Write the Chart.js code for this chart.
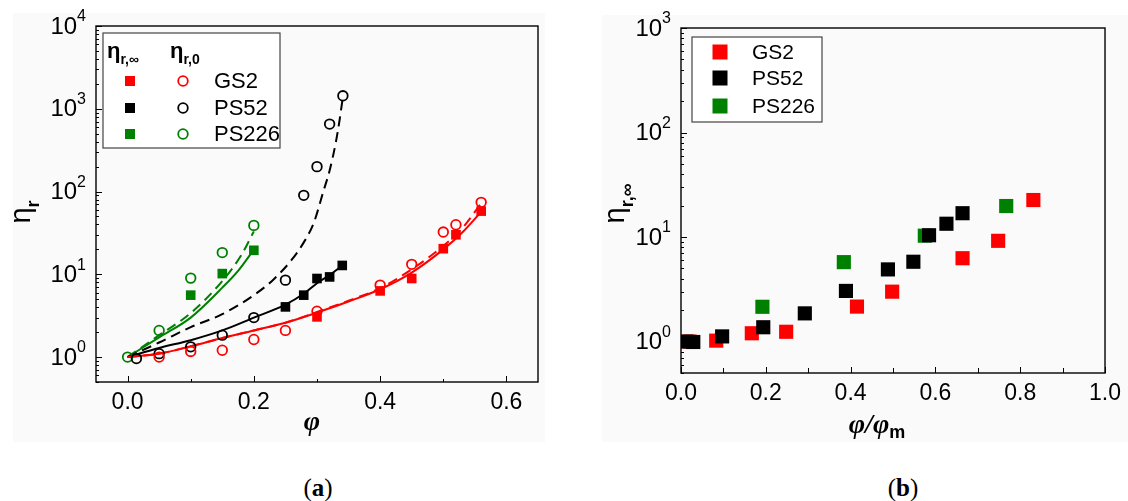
<!DOCTYPE html>
<html>
<head>
<meta charset="utf-8">
<script src="https://cdn.jsdelivr.net/npm/chart.js@4.4.1/dist/chart.umd.min.js"></script>
<style>
  body{margin:0;width:1128px;height:501px;background:#fff;position:relative;overflow:hidden}
  .bg{position:absolute;background:#fafafa}
  #bgA{left:13px;top:13px;width:532px;height:429px}
  #bgB{left:602px;top:15px;width:526px;height:427px}
  canvas{position:absolute;top:0}
  #chartA{left:0}
  #chartB{left:570px}
  .cap{position:absolute;top:474px;width:80px;margin-left:-40px;text-align:center;
       font:25px "Liberation Serif","DejaVu Serif",serif;color:#000}
</style>
</head>
<body>
<div class="bg" id="bgA"></div>
<div class="bg" id="bgB"></div>
<canvas id="chartA" width="560" height="445"></canvas>
<canvas id="chartB" width="558" height="445"></canvas>
<div class="cap" style="left:318px">(<b>a</b>)</div>
<div class="cap" style="left:903px">(<b>b</b>)</div>

<script>
/* ---------- panel (a): eta_r vs phi ---------- */
const phiGS2Inf   = [0.30, 0.40, 0.45, 0.50, 0.52, 0.56];
const etaGS2Inf   = [3.06, 6.3, 8.9, 20.4, 30, 58];
const phiGS2Zero  = [0.05, 0.10, 0.15, 0.20, 0.25, 0.30, 0.40, 0.45, 0.50, 0.52, 0.56];
const etaGS2Zero  = [1.0, 1.17, 1.21, 1.63, 2.1, 3.58, 7.4, 13.2, 32.4, 39.7, 74];

const phiPS52Inf  = [0.25, 0.279, 0.30, 0.32, 0.34];
const etaPS52Inf  = [4.04, 5.6, 8.9, 9.3, 12.8];
const phiPS52Zero = [0.014, 0.05, 0.10, 0.15, 0.20, 0.25, 0.279, 0.30, 0.32, 0.341];
const etaPS52Zero = [0.96, 1.1, 1.33, 1.84, 3.0, 8.5, 90, 200, 653, 1435];

const phiPS226Inf  = [0.10, 0.15, 0.20];
const etaPS226Inf  = [5.6, 10.2, 19.5];
const phiPS226Zero = [0, 0.05, 0.10, 0.15, 0.20];
const etaPS226Zero = [1.0, 2.1, 9.0, 18.3, 39];

// fitted curves (solid = eta_r,inf, dashed = eta_r,0)
const fitGS2InfX   = [0, 0.05, 0.10, 0.15, 0.20, 0.25, 0.30, 0.35, 0.40, 0.45, 0.50, 0.53, 0.56];
const fitGS2InfY   = [1, 1.1, 1.35, 1.7, 2.1, 2.6, 3.45, 4.7, 6.6, 10.5, 20, 32, 57];
const fitGS2ZeroX  = [0, 0.05, 0.10, 0.15, 0.20, 0.25, 0.30, 0.35, 0.40, 0.45, 0.50, 0.53, 0.56];
const fitGS2ZeroY  = [1, 1.1, 1.35, 1.7, 2.1, 2.6, 3.5, 4.8, 6.8, 11.5, 22, 36, 72];
const fitPS52InfX  = [0, 0.05, 0.10, 0.15, 0.20, 0.25, 0.28, 0.30, 0.32, 0.34];
const fitPS52InfY  = [1, 1.29, 1.6, 2.1, 3.0, 4.3, 5.9, 7.8, 9.8, 12.8];
const fitPS52ZeroX = [0, 0.05, 0.10, 0.15, 0.20, 0.23, 0.26, 0.28, 0.295, 0.31, 0.32, 0.33, 0.336, 0.341];
const fitPS52ZeroY = [1, 1.5, 2.3, 3.3, 5.6, 8.5, 15, 25, 42, 100, 180, 400, 750, 1400];
const fitPS226InfX  = [0, 0.05, 0.10, 0.15, 0.175, 0.20];
const fitPS226InfY  = [1, 1.73, 3.0, 6.9, 11, 19.9];
const fitPS226ZeroX = [0, 0.05, 0.10, 0.15, 0.18, 0.20];
const fitPS226ZeroY = [1, 1.84, 3.4, 8.3, 17, 33];

const xTicksA = [0, 0.2, 0.4, 0.6];
const xMinorA = [0.1, 0.3, 0.5];
const yTicksA = [1, 10, 100, 1000, 10000];

/* ---------- panel (b): eta_r,inf vs phi/phi_m ---------- */
const ratioGS2  = [0.02, 0.083, 0.167, 0.248, 0.415, 0.498, 0.664, 0.748, 0.831];
const etaGS2    = [1.0, 1.02, 1.2, 1.24, 2.16, 3.0, 6.27, 9.2, 22.6];
const ratioPS52 = [0.013, 0.029, 0.097, 0.194, 0.292, 0.389, 0.488, 0.548, 0.585, 0.626, 0.664];
const etaPS52   = [1.0, 0.99, 1.12, 1.37, 1.86, 3.05, 4.9, 5.8, 10.4, 13.4, 16.9];
const ratioPS226 = [0.192, 0.384, 0.575, 0.767];
const etaPS226   = [2.15, 5.75, 10.3, 19.8];

const xTicksB = [0, 0.2, 0.4, 0.6, 0.8, 1.0];
const xMinorB = [0.1, 0.3, 0.5, 0.7, 0.9];
const yTicksB = [1, 10, 100, 1000];

const series = ['GS2', 'PS52', 'PS226'];
const RED = '#ff0000', BLACK = '#000000', GREEN = '#008000';
const colors = [RED, BLACK, GREEN];

const SANS = '"Liberation Sans", Arial, sans-serif';
const SERIF = '"Liberation Serif", "DejaVu Serif", serif';

Chart.defaults.font.family = SANS;
Chart.defaults.color = '#000';
Chart.defaults.animation = false;

const pts = (xs, ys) => xs.map((x, i) => ({x, y: ys[i]}));

const squares = (label, xs, ys, color, r) => ({
  label, data: pts(xs, ys), pointStyle: 'rect', pointRadius: r,
  backgroundColor: color, borderColor: color, borderWidth: 0
});
const circles = (label, xs, ys, color) => ({
  label, data: pts(xs, ys), pointStyle: 'circle', pointRadius: 4.8,
  backgroundColor: 'rgba(0,0,0,0)', borderColor: color, borderWidth: 1.8
});
const curve = (label, xs, ys, color, dashed) => ({
  label, data: pts(xs, ys), showLine: true, pointRadius: 0, borderColor: color,
  borderWidth: 2, borderDash: dashed ? [10, 6] : [], cubicInterpolationMode: 'monotone'
});

/* ---------- drawing helpers ---------- */
// main text followed by a bold subscript, returns total width
function textWithSub(ctx, x, y, main, sub, size, subSize, measureOnly, boldMain){
  const mainFont = `${boldMain ? 'bold ' : ''}${size}px ${SANS}`;
  ctx.font = mainFont;
  const w1 = ctx.measureText(main).width;
  ctx.font = `bold ${subSize}px ${SANS}`;
  const w2 = ctx.measureText(sub).width;
  if (measureOnly) return w1 + w2;
  ctx.textBaseline = 'alphabetic'; ctx.textAlign = 'left';
  ctx.font = mainFont;
  ctx.fillText(main, x, y);
  ctx.font = `bold ${subSize}px ${SANS}`;
  ctx.fillText(sub, x + w1, y + size * 0.28);
  return w1 + w2;
}

function drawYTitle(ctx, cx, cy, main, sub, size, subSize){
  const w = textWithSub(ctx, 0, 0, main, sub, size, subSize, true);
  ctx.save();
  ctx.translate(cx, cy);
  ctx.rotate(-Math.PI / 2);
  textWithSub(ctx, -w / 2, size * 0.22, main, sub, size, subSize);
  ctx.restore();
}

function drawSquare(ctx, x, y, side, color){
  ctx.fillStyle = color;
  ctx.fillRect(x - side / 2, y - side / 2, side, side);
}
function drawCircle(ctx, x, y, r, color){
  ctx.strokeStyle = color; ctx.lineWidth = 1.8;
  ctx.beginPath(); ctx.arc(x, y, r, 0, Math.PI * 2); ctx.stroke();
}

// frame, inward ticks, power-of-ten labels, axis titles and legend
const panelDecor = {
  id: 'panelDecor',
  afterDraw(chart, args, o){
    const {ctx, chartArea: a, scales: {x, y}} = chart;
    ctx.save();
    ctx.strokeStyle = '#000';
    ctx.lineWidth = 1;
    const tickX = (v, len) => {
      const px = Math.round(x.getPixelForValue(v)) + 0.5;
      ctx.beginPath(); ctx.moveTo(px, a.bottom); ctx.lineTo(px, a.bottom - len); ctx.stroke();
    };
    const tickY = (v, len) => {
      const py = Math.round(y.getPixelForValue(v)) + 0.5;
      ctx.beginPath(); ctx.moveTo(a.left, py); ctx.lineTo(a.left + len, py); ctx.stroke();
    };
    o.xMajor.forEach(v => tickX(v, 6));
    o.xMinor.forEach(v => tickX(v, o.minorLen));
    for (let d = Math.floor(Math.log10(y.min)); d <= Math.ceil(Math.log10(y.max)); d++){
      for (let k = 1; k <= 9; k++){
        const v = k * Math.pow(10, d);
        if (v < y.min || v > y.max) continue;
        tickY(v, k === 1 ? 6 : 3);
      }
    }
    ctx.lineWidth = 1.4;
    ctx.strokeRect(a.left, a.top, a.width, a.height);

    // y tick labels as 10 with a raised exponent
    ctx.fillStyle = '#000';
    ctx.textBaseline = 'middle'; ctx.textAlign = 'right';
    y.ticks.forEach(t => {
      const py = y.getPixelForValue(t.value);
      const exp = String(Math.round(Math.log10(t.value)));
      const right = a.left - 10;
      ctx.font = `16px ${SANS}`;
      const we = ctx.measureText(exp).width;
      ctx.fillText(exp, right, py - 9);
      ctx.font = `24px ${SANS}`;
      ctx.fillText('10', right - we, py + 1);
    });

    // axis titles
    drawYTitle(ctx, a.left + o.yTitle.dx, (a.top + a.bottom) / 2 + o.yTitle.dy,
               'η', o.yTitle.sub, 29, 18);
    ctx.textBaseline = 'middle';
    const xt = o.xTitle;
    ctx.font = `italic bold 28px ${SERIF}`;
    const wMain = ctx.measureText(xt.main).width;
    let wSub = 0;
    if (xt.sub){ ctx.font = `bold 18px ${SANS}`; wSub = ctx.measureText(xt.sub).width; }
    const tx = (a.left + a.right) / 2 + xt.dx - (wMain + wSub) / 2;
    const ty = a.bottom + xt.dy;
    ctx.textAlign = 'left';
    ctx.font = `italic bold 28px ${SERIF}`;
    ctx.fillText(xt.main, tx, ty);
    if (xt.sub){ ctx.font = `bold 18px ${SANS}`; ctx.fillText(xt.sub, tx + wMain, ty + 7); }

    // legend
    const L = o.legend;
    const lx = a.left + L.x, ly = a.top + L.y;
    ctx.fillStyle = '#fff';
    ctx.fillRect(lx, ly, L.w, L.h);
    ctx.strokeStyle = '#444'; ctx.lineWidth = 1.2;
    ctx.strokeRect(lx, ly, L.w, L.h);
    ctx.fillStyle = '#000';
    if (L.headers){
      L.headers.forEach(h => textWithSub(ctx, lx + h.x, ly + L.headerY, 'η', h.sub, 22, 14, false, true));
    }
    series.forEach((name, i) => {
      const ry = ly + L.rowY[i];
      drawSquare(ctx, lx + L.sqX, ry, L.sqSide, colors[i]);
      if (L.circX) drawCircle(ctx, lx + L.circX, ry, 4.8, colors[i]);
      ctx.fillStyle = '#000';
      ctx.font = `${L.fontSize}px ${SANS}`;
      ctx.textAlign = 'left'; ctx.textBaseline = 'middle';
      ctx.fillText(name, lx + L.textX, ry + 1);
    });
    ctx.restore();
  }
};

function scalesFor(xMin, xMax, xTicks, yMin, yMax, yTicks, yWidth, xHeight){
  return {
    x: {
      type: 'linear', min: xMin, max: xMax,
      afterBuildTicks: s => { s.ticks = xTicks.map(v => ({value: v})); },
      afterFit: s => { s.height = xHeight; },
      grid: {display: false, drawTicks: false}, border: {display: false},
      ticks: {callback: v => Number(v).toFixed(1), font: {size: 23}, padding: 7,
              maxRotation: 0, autoSkip: false, color: '#000'}
    },
    y: {
      type: 'logarithmic', min: yMin, max: yMax,
      afterBuildTicks: s => { s.ticks = yTicks.map(v => ({value: v})); },
      afterFit: s => { s.width = yWidth; },
      grid: {display: false, drawTicks: false}, border: {display: false},
      ticks: {display: false}
    }
  };
}

const commonPlugins = {legend: {display: false}, tooltip: {enabled: false}};

new Chart(document.getElementById('chartA'), {
  type: 'scatter',
  data: {datasets: [
    circles('GS2 ηr,0', phiGS2Zero, etaGS2Zero, RED),
    circles('PS52 ηr,0', phiPS52Zero, etaPS52Zero, BLACK),
    circles('PS226 ηr,0', phiPS226Zero, etaPS226Zero, GREEN),
    squares('GS2 ηr,∞', phiGS2Inf, etaGS2Inf, RED, 6.8),
    squares('PS52 ηr,∞', phiPS52Inf, etaPS52Inf, BLACK, 6.8),
    squares('PS226 ηr,∞', phiPS226Inf, etaPS226Inf, GREEN, 6.8),
    curve('GS2 fit ∞', fitGS2InfX, fitGS2InfY, RED, false),
    curve('GS2 fit 0', fitGS2ZeroX, fitGS2ZeroY, RED, true),
    curve('PS52 fit ∞', fitPS52InfX, fitPS52InfY, BLACK, false),
    curve('PS52 fit 0', fitPS52ZeroX, fitPS52ZeroY, BLACK, true),
    curve('PS226 fit ∞', fitPS226InfX, fitPS226InfY, GREEN, false),
    curve('PS226 fit 0', fitPS226ZeroX, fitPS226ZeroY, GREEN, true)
  ]},
  options: {
    responsive: false,
    layout: {padding: {left: 0, top: 26, right: 22, bottom: 0}},
    scales: scalesFor(-0.05, 0.65, xTicksA, 0.5, 1e4, yTicksA, 96, 63),
    plugins: {...commonPlugins, panelDecor: {
      xMajor: xTicksA, xMinor: xMinorA, minorLen: 3,
      yTitle: {dx: -72, dy: 8, sub: 'r'},
      xTitle: {main: 'φ', dx: -5, dy: 41},
      legend: {x: 7, y: 7, w: 177, h: 115, headerY: 25,
               headers: [{x: 4, sub: 'r,∞'}, {x: 67, sub: 'r,0'}],
               rowY: [48, 75, 101], sqX: 27, sqSide: 10, circX: 80, textX: 111, fontSize: 22}
    }}
  },
  plugins: [panelDecor]
});

new Chart(document.getElementById('chartB'), {
  type: 'scatter',
  data: {datasets: [
    squares('PS52', ratioPS52, etaPS52, BLACK, 10),
    squares('GS2', ratioGS2, etaGS2, RED, 10),
    squares('PS226', ratioPS226, etaPS226, GREEN, 10)
  ]},
  options: {
    responsive: false,
    layout: {padding: {left: 0, top: 28, right: 17, bottom: 0}},
    scales: scalesFor(0, 1.0, xTicksB, 0.5, 1000, yTicksB, 111, 72),
    plugins: {...commonPlugins, panelDecor: {
      xMajor: xTicksB, xMinor: xMinorB, minorLen: 5,
      yTitle: {dx: -63, dy: 3, sub: 'r,∞'},
      xTitle: {main: 'φ/φ', sub: 'm', dx: -16, dy: 53},
      legend: {x: 11, y: 9, w: 130, h: 85,
               rowY: [15, 41, 69], sqX: 28, sqSide: 15, textX: 60, fontSize: 21}
    }}
  },
  plugins: [panelDecor]
});
</script>
</body>
</html>
